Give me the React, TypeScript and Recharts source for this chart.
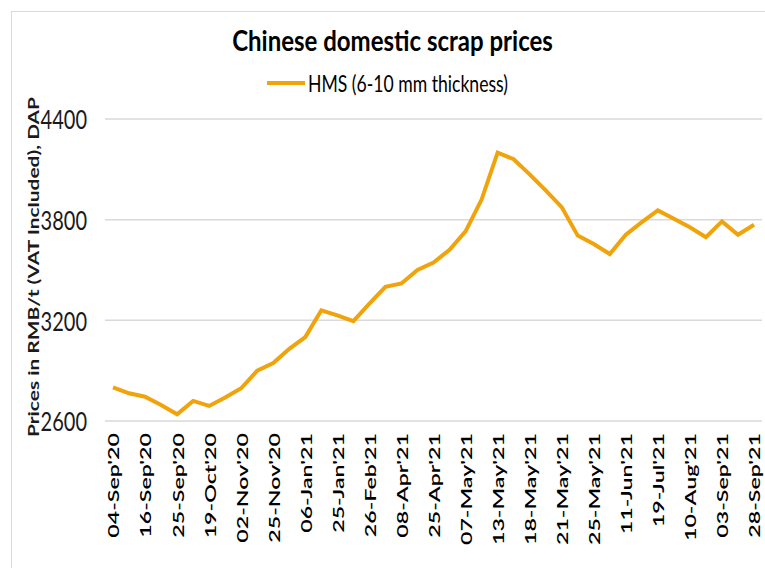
import { CartesianGrid, Legend, Line, LineChart, XAxis, YAxis } from "recharts"

const FONT = "Lato, 'Liberation Sans', Arial, sans-serif"
const LINE_COLOR = "#f0a30a"

const dates = [
    "04-Sep'20", "10-Sep'20", "16-Sep'20", "21-Sep'20", "25-Sep'20", "12-Oct'20", "19-Oct'20", "26-Oct'20",
    "02-Nov'20", "16-Nov'20", "25-Nov'20", "11-Dec'20", "06-Jan'21", "15-Jan'21", "25-Jan'21", "05-Feb'21",
    "26-Feb'21", "22-Mar'21", "08-Apr'21", "16-Apr'21", "25-Apr'21", "30-Apr'21", "07-May'21", "11-May'21",
    "13-May'21", "14-May'21", "18-May'21", "20-May'21", "21-May'21", "24-May'21", "25-May'21", "04-Jun'21",
    "11-Jun'21", "05-Jul'21", "19-Jul'21", "29-Jul'21", "10-Aug'21", "20-Aug'21", "03-Sep'21", "15-Sep'21",
    "28-Sep'21",
]

const hms = [
    2800, 2765, 2745, 2695, 2640, 2720, 2690, 2740,
    2795, 2900, 2945, 3030, 3100, 3260, 3230, 3195,
    3300, 3400, 3420, 3500, 3545, 3620, 3730, 3920,
    4200, 4160, 4070, 3975, 3875, 3705, 3655, 3595,
    3710, 3785, 3855, 3805, 3755, 3695, 3790, 3710,
    3770,
]

const yTicks = [2600, 3200, 3800, 4400]

const seriesName = "HMS (6-10 mm thickness)"

const data = dates.map((d, i) => ({ date: d, hms: hms[i] }))

const XTick = ({ x, y, payload }: any) => (
    <g transform={`translate(${x},${y})`}>
        <text
            transform="rotate(-90) scale(1.45,1)"
            textAnchor="end"
            dominantBaseline="central"
            fontSize={16}
            fontWeight={600}
            fontFamily={FONT}
            fill="#000"
        >
            {payload.value}
        </text>
    </g>
)

const YTick = ({ x, y, payload }: any) => (
    <g transform={`translate(${x},${y})`}>
        <text
            transform="scale(1,1.35)"
            textAnchor="end"
            dominantBaseline="central"
            fontSize={20}
            fontFamily={FONT}
            fill="#1a1a1a"
        >
            {payload.value}
        </text>
    </g>
)

const LegendContent = () => (
    <div style={{ display: "flex", alignItems: "center", justifyContent: "center", height: 26, marginLeft: 10 }}>
        <div style={{ width: 38, height: 4, background: LINE_COLOR, marginRight: 3 }} />
        <span
            style={{
                fontFamily: FONT,
                fontSize: 17.6,
                color: "#000",
                display: "inline-block",
                transform: "scaleY(1.3)",
            }}
        >
            {seriesName}
        </span>
    </div>
)

const App = () => {
    return (
        <div style={{ position: "absolute", left: 0, top: 0, width: 765, height: 568, background: "#fff" }}>
            <div
                style={{
                    position: "absolute",
                    left: 11,
                    top: 11,
                    right: -2,
                    bottom: -2,
                    borderLeft: "1.5px solid #d9d9d9",
                    borderTop: "1.5px solid #d9d9d9",
                }}
            />
            <div
                style={{
                    position: "absolute",
                    left: 0,
                    width: 785,
                    top: 22,
                    textAlign: "center",
                    fontFamily: FONT,
                    fontWeight: "bold",
                    fontSize: 24,
                    color: "#000",
                    transform: "scaleY(1.2)",
                    transformOrigin: "center top",
                }}
            >
                Chinese domestic scrap prices
            </div>
            <div style={{ position: "absolute", left: 0, top: 0 }}>
                <LineChart width={765} height={568} data={data} margin={{ top: 93, right: 3, left: 45, bottom: 0 }}>
                    <CartesianGrid vertical={false} stroke="#d9d9d9" strokeWidth={1.5} />
                    <XAxis
                        dataKey="date"
                        interval={1}
                        axisLine={false}
                        tickLine={false}
                        tickSize={0}
                        tickMargin={12}
                        height={147}
                        padding={{ left: 8, right: 8 }}
                        tick={<XTick />}
                    />
                    <YAxis
                        domain={[2600, 4400]}
                        ticks={yTicks}
                        axisLine={false}
                        tickLine={false}
                        tickSize={0}
                        tickMargin={18}
                        width={60}
                        tick={<YTick />}
                        label={{
                            content: () => (
                                <text
                                    transform="translate(33,267) rotate(-90)"
                                    textAnchor="middle"
                                    dominantBaseline="central"
                                    fontSize={15}
                                    fontWeight="bold"
                                    fontFamily={FONT}
                                    textLength={340}
                                    lengthAdjust="spacingAndGlyphs"
                                    fill="#1a1a1a"
                                >
                                    Prices in RMB/t (VAT Included), DAP
                                </text>
                            ),
                        }}
                    />
                    <Legend
                        verticalAlign="top"
                        content={<LegendContent />}
                        wrapperStyle={{ top: 70, left: 0, width: 765 }}
                    />
                    <Line
                        type="linear"
                        dataKey="hms"
                        name={seriesName}
                        stroke={LINE_COLOR}
                        strokeWidth={4}
                        dot={false}
                        isAnimationActive={false}
                    />
                </LineChart>
            </div>
        </div>
    )
}

export default App
